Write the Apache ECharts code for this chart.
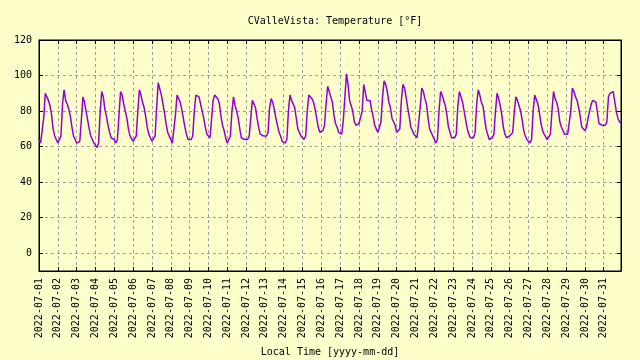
<!DOCTYPE html>
<html><head><meta charset="utf-8">
<script src="https://cdn.jsdelivr.net/npm/echarts@6/dist/echarts.min.js"></script>
<style>html,body{margin:0;padding:0;background:#ffffcc}#c{width:640px;height:360px}</style>
</head><body><div id="c"></div>
<script>
const dayLabels = ['2022-07-01','2022-07-02','2022-07-03','2022-07-04','2022-07-05','2022-07-06','2022-07-07','2022-07-08','2022-07-09','2022-07-10','2022-07-11','2022-07-12','2022-07-13','2022-07-14','2022-07-15','2022-07-16','2022-07-17','2022-07-18','2022-07-19','2022-07-20','2022-07-21','2022-07-22','2022-07-23','2022-07-24','2022-07-25','2022-07-26','2022-07-27','2022-07-28','2022-07-29','2022-07-30','2022-07-31'];
const sampleHours = [0,2,4,6,8,10,12,14,16,18,20,22];
// temperature [°F] per day, at the sample hours above
const tempByDay = [
 [64,62,63,76,90,89,86,83,78,70,66,64],
 [62,61,66,84,92,86,84,81,77,71,66,64],
 [62,63,63,75,88,85,80,75,70,66,64,62],
 [61,59.5,62,80,91,88,81,77,72,68,65,64],
 [64,62,64,78,91,89,84,80,76,70,66,65],
 [63,63,66,80,92,89,85,82,77,71,67,65],
 [63,62,66,82,96,97,89,84,79,73,68,66],
 [65,62,62,78,89,87,85,81,76,71,67,64],
 [64,64,66,80,89,89,88,84,80,76,71,67],
 [66,65,66,86,89,88,87,84,77,72,69,65],
 [62,62,66,80,88,83,80,76,70,65,64,64],
 [64,64,66,76,86,86,82,76,71,67,66,66],
 [66,66,68,82,87,85,81,76,72,68,66,63],
 [63,62,64,80,89,86,85,82,76,70,68,66],
 [65,64,66,80,89,89,87,85,81,76,71,68],
 [68,69,72,84,94,91,88,85,78,73,71,68],
 [67,67,75,88,101,95,86,85,80,74,72,72],
 [73,73,80,95,94,86,86,86,81,77,72,70],
 [68,68,74,88,97,95,91,85,82,76,74,72],
 [68,67,70,86,95,93,88,82,77,71,70,67],
 [66,65,66,82,93,91,87,84,76,70,68,66],
 [65,62,64,80,91,89,86,83,78,71,68,65],
 [64,65,67,83,91,88,85,80,75,70,67,65],
 [65,65,68,84,92,89,85,83,76,70,67,64],
 [65,65,67,80,90,87,83,78,71,67,65,65],
 [66,67,68,80,88,86,83,80,75,69,66,64],
 [63,62,64,80,89,88,84,79,73,69,67,66],
 [64,64,67,80,91,87,85,81,74,71,70,67],
 [66,67,68,80,93,91,88,86,82,77,71,70],
 [69,71,76,80,84,86,86,85,84,73,73,72],
 [72,72,74,88,90,89,91,90,80,76,74,73]
];
const yTicks = [0,20,40,60,80,100,120];

const FONT = "'DejaVu Sans Mono', 'Liberation Mono', monospace";
const data = [];
tempByDay.forEach((row, d) => row.forEach((v, i) => data.push([d * 24 + sampleHours[i], v])));
const xMax = (dayLabels.length - 1) * 24 + sampleHours[sampleHours.length - 1];
const xTicks = dayLabels.map((_, i) => i * 24);

const chart = echarts.init(document.getElementById('c'), null, {renderer: 'canvas'});
const tickStyle = {color: '#000', width: 1};
const axisLine = {show: true, onZero: false, lineStyle: {color: '#000', width: 1}};
const gridLine = {show: true, lineStyle: {color: '#a0a0a0', type: [3, 3], width: 1}};
const labelStyle = {fontFamily: FONT, fontSize: 10, color: '#000'};
chart.setOption({
  backgroundColor: '#ffffcc',
  animation: false,
  title: {text: 'CValleVista: Temperature [°F]', left: 330, textAlign: 'center', top: 11,
    textStyle: {fontFamily: FONT, fontSize: 10, fontWeight: 'normal', color: '#000'}},
  grid: {left: 39, right: 19, top: 40, bottom: 89, show: true, borderColor: '#000', borderWidth: 1, containLabel: false, outerBoundsMode: 'none'},
  graphic: [{type: 'text', x: 330, y: 347,
    style: {text: 'Local Time [yyyy-mm-dd]', font: '10px ' + FONT, fill: '#000', textAlign: 'center'}}],
  xAxis: [
    {type: 'value', min: 0, max: xMax, position: 'bottom',
     axisLine: axisLine,
     axisTick: {inside: true, length: 4, customValues: xTicks, lineStyle: tickStyle},
     axisLabel: Object.assign({customValues: xTicks, rotate: 90, margin: 7,
       formatter: v => dayLabels[Math.round(v / 24)]}, labelStyle),
     splitLine: gridLine},
    {type: 'value', min: 0, max: xMax, position: 'top',
     axisLine: axisLine,
     axisTick: {inside: true, length: 4, customValues: xTicks, lineStyle: tickStyle},
     axisLabel: {show: false}, splitLine: {show: false}}
  ],
  yAxis: [
    {type: 'value', min: -10, max: 120, position: 'left',
     axisLine: axisLine,
     axisTick: {inside: true, length: 4, customValues: yTicks, lineStyle: tickStyle},
     axisLabel: Object.assign({customValues: yTicks, margin: 7}, labelStyle),
     splitLine: gridLine},
    {type: 'value', min: -10, max: 120, position: 'right',
     axisLine: axisLine,
     axisTick: {inside: true, length: 4, customValues: yTicks, lineStyle: tickStyle},
     axisLabel: {show: false}, splitLine: {show: false}}
  ],
  series: [{type: 'line', data: data, showSymbol: false, symbol: 'none',
    xAxisIndex: 0, yAxisIndex: 0,
    lineStyle: {color: '#9400d3', width: 1.5}}]
});
</script></body></html>
